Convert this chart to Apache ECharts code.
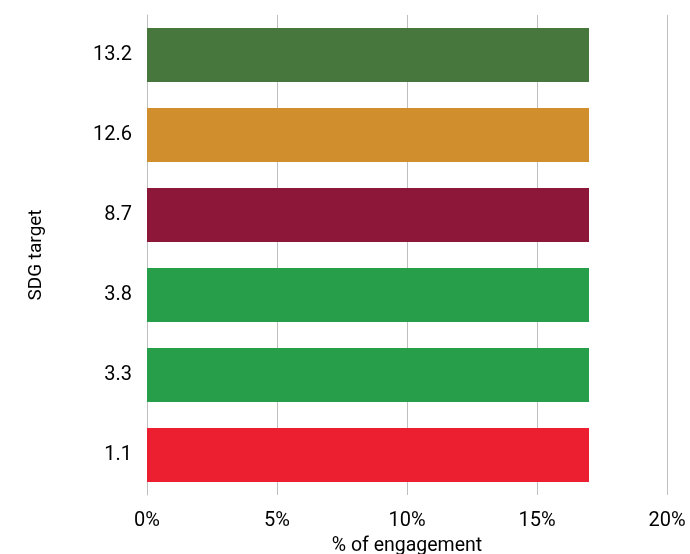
<!DOCTYPE html>
<html><head><meta charset="utf-8">
<script src="https://cdn.jsdelivr.net/npm/echarts@6/dist/echarts.min.js"></script>
<style>html,body{margin:0;padding:0;background:#fff}#c{width:690px;height:554px}</style>
</head><body><div id="c"></div>
<script>
const categories = ['1.1','3.3','3.8','8.7','12.6','13.2'];
const values = [17,17,17,17,17,17];
const colors = ['#EB1F2F','#279E4A','#279E4A','#8C1738','#D08F2C','#48773D'];
const xTicks = [0,5,10,15,20];
const chart = echarts.init(document.getElementById('c'));
chart.setOption({
  animation:false,
  grid:{left:147,right:23,top:15,bottom:59,containLabel:false,outerBoundsMode:'none'},
  xAxis:{type:'value',min:0,max:20,interval:5,
    name:'% of engagement',nameLocation:'middle',nameGap:39,
    nameTextStyle:{fontFamily:'Roboto',fontSize:19.5,color:'#000'},
    axisLine:{show:false},axisTick:{show:false},
    axisLabel:{fontFamily:'Roboto',fontSize:20,color:'#000',margin:16,formatter:v=>v+'%'},
    splitLine:{show:true,lineStyle:{color:'#BFBFBF',width:1}}},
  yAxis:{type:'category',data:categories,
    name:'SDG target',nameLocation:'middle',nameGap:101,nameRotate:90,
    nameTextStyle:{fontFamily:'Roboto',fontSize:19,color:'#000'},
    axisLine:{show:true,lineStyle:{color:'#BFBFBF',width:1}},axisTick:{show:false},
    axisLabel:{fontFamily:'Roboto',fontSize:20,color:'#000',margin:15}},
  series:[{type:'bar',barCategoryGap:'32.5%',
    data:values.map((v,i)=>({value:v,itemStyle:{color:colors[i]}}))}]
});
</script></body></html>
